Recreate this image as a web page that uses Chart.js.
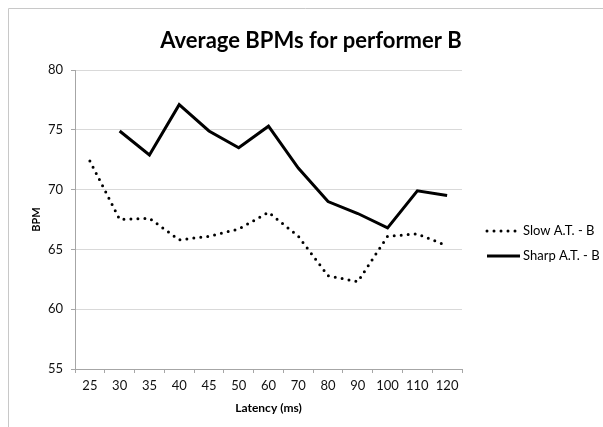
<!DOCTYPE html>
<html>
<head>
<meta charset="utf-8">
<script src="https://cdn.jsdelivr.net/npm/chart.js@4.4.1/dist/chart.umd.min.js"></script>
<style>
  html, body { margin: 0; padding: 0; background: #fff; }
  #wrap { width: 603px; height: 427px; position: relative; }
</style>
</head>
<body>
<div id="wrap"><canvas id="bpmChart" width="603" height="427"></canvas></div>
<script>
// values
const latency = ['25', '30', '35', '40', '45', '50', '60', '70', '80', '90', '100', '110', '120'];
const slowAT = [72.4, 67.5, 67.6, 65.8, 66.1, 66.7, 68.1, 66.1, 62.8, 62.3, 66.1, 66.3, 65.3];
const sharpAT = [null, 74.9, 72.9, 77.1, 74.9, 73.5, 75.3, 71.8, 69.0, 68.0, 66.8, 69.9, 69.5];
const yTicks = [55, 60, 65, 70, 75, 80];

const FONT = "Lato, 'Open Sans', sans-serif";

// frame, title and legend drawn on top of the chart
const extras = {
    id: 'extras',
    afterDraw(chart) {
        const ctx = chart.ctx;
        ctx.save();
        ctx.strokeStyle = '#c8c8c8';
        ctx.lineWidth = 1;
        ctx.beginPath();
        ctx.moveTo(8.5, 427);
        ctx.lineTo(8.5, 8.5);
        ctx.lineTo(603, 8.5);
        ctx.stroke();

        ctx.fillStyle = '#000';
        ctx.font = "bold 22px " + FONT;
        ctx.textAlign = 'center';
        ctx.textBaseline = 'middle';
        ctx.fillText('Average BPMs for performer B', 311, 41);

        // legend
        ctx.font = "13px " + FONT;
        ctx.textAlign = 'left';
        const rows = [231, 256];
        chart.data.datasets.forEach((ds, i) => {
            const y = rows[i];
            ctx.beginPath();
            ctx.strokeStyle = ds.borderColor;
            ctx.lineWidth = ds.borderWidth;
            ctx.lineCap = ds.borderCapStyle || 'butt';
            ctx.setLineDash(ds.borderDash || []);
            ctx.moveTo(487, y);
            ctx.lineTo(520, y);
            ctx.stroke();
            ctx.setLineDash([]);
            ctx.fillStyle = '#000';
            ctx.fillText(ds.label, 523, y);
        });
        ctx.restore();
    }
};

new Chart(document.getElementById('bpmChart'), {
    type: 'line',
    data: {
        labels: latency,
        datasets: [
            {
                label: 'Slow A.T. - B',
                data: slowAT,
                borderColor: '#000',
                borderWidth: 3,
                borderDash: [0, 7],
                borderCapStyle: 'round',
                pointRadius: 0,
                tension: 0
            },
            {
                label: 'Sharp A.T. - B',
                data: sharpAT,
                borderColor: '#000',
                borderWidth: 3,
                pointRadius: 0,
                tension: 0
            }
        ]
    },
    options: {
        responsive: false,
        animation: false,
        layout: { padding: { top: 70, right: 141, left: 0, bottom: 0 } },
        plugins: {
            legend: { display: false },
            title: { display: false },
            tooltip: { enabled: false }
        },
        scales: {
            x: {
                offset: true,
                grid: {
                    display: true,
                    drawOnChartArea: false,
                    drawTicks: true,
                    tickLength: 4,
                    offset: true,
                    color: '#a6a6a6'
                },
                border: { color: '#a6a6a6' },
                ticks: {
                    color: '#111',
                    font: { family: FONT, size: 13 },
                    padding: 5,
                    maxRotation: 0,
                    autoSkip: false
                },
                title: {
                    display: true,
                    text: 'Latency (ms)',
                    color: '#000',
                    font: { family: FONT, size: 12, weight: 'bold' },
                    padding: { top: 0, bottom: 12 }
                },
                afterFit(scale) { scale.height = 58; }
            },
            y: {
                min: 55,
                max: 80,
                afterBuildTicks(scale) {
                    scale.ticks = yTicks.map(v => ({ value: v }));
                },
                grid: {
                    color: '#d9d9d9',
                    tickColor: '#a6a6a6',
                    tickLength: 4
                },
                border: { color: '#a6a6a6' },
                ticks: {
                    color: '#111',
                    font: { family: FONT, size: 13 },
                    padding: 8
                },
                title: {
                    display: true,
                    text: 'BPM',
                    color: '#000',
                    font: { family: FONT, size: 11, weight: 'bold' },
                    padding: { top: 30, bottom: 0 }
                },
                afterFit(scale) { scale.width = 75; }
            }
        }
    },
    plugins: [extras]
});
</script>
</body>
</html>
